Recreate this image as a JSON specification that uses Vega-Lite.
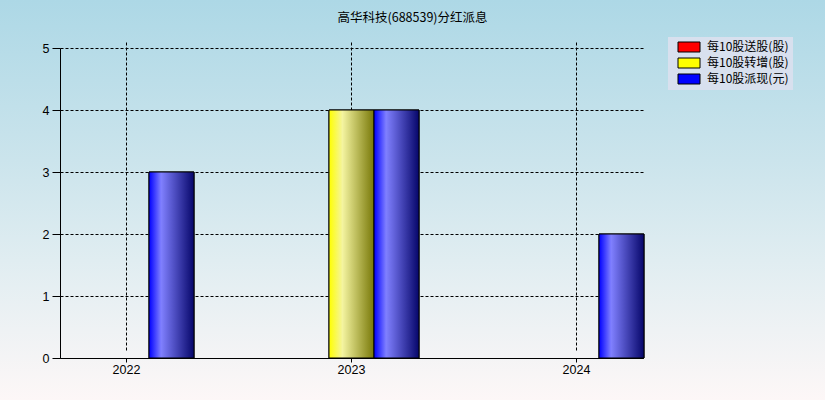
{
  "$schema": "https://vega.github.io/schema/vega-lite/v6.json",
  "width": 825,
  "height": 400,
  "autosize": {"type": "none"},
  "padding": 0,
  "background": "#fbf7f7",
  "title": {
    "text": "高华科技(688539)分红派息",
    "anchor": "middle",
    "offset": -24,
    "fontSize": 12.5,
    "fontWeight": "normal",
    "font": "Noto Sans CJK SC",
    "color": "#000000"
  },
  "data": {
    "values": [
      {"year": "2022", "type": "每10股派现(元)", "value": 3},
      {"year": "2023", "type": "每10股转增(股)", "value": 4},
      {"year": "2023", "type": "每10股派现(元)", "value": 4},
      {"year": "2024", "type": "每10股派现(元)", "value": 2}
    ]
  },
  "encoding": {
    "x": {
      "field": "year",
      "type": "nominal",
      "scale": {
        "type": "band",
        "domain": ["2022", "2023", "2024"],
        "range": [60, 643],
        "paddingInner": 1,
        "paddingOuter": 0.2956
      },
      "axis": {
        "title": null,
        "orient": "bottom",
        "offset": -42,
        "labelAngle": 0,
        "grid": true,
        "gridDash": [3, 2],
        "gridColor": "#000000",
        "gridOpacity": 1,
        "gridWidth": 1,
        "domainColor": "#000000",
        "domainWidth": 1,
        "tickColor": "#000000",
        "tickSize": 4,
        "labelFont": "Liberation Sans",
        "labelFontSize": 12.5,
        "labelColor": "#000000",
        "labelPadding": 1
      }
    },
    "xOffset": {
      "field": "type",
      "type": "nominal",
      "scale": {
        "domain": ["每10股送股(股)", "每10股转增(股)", "每10股派现(元)"],
        "range": [-67.5, 67.5]
      }
    },
    "y": {
      "field": "value",
      "type": "quantitative",
      "scale": {"domain": [0, 5], "range": [358, 48], "nice": false},
      "axis": {
        "title": null,
        "offset": -60,
        "values": [0, 1, 2, 3, 4, 5],
        "grid": true,
        "gridDash": [3, 2],
        "gridColor": "#000000",
        "gridOpacity": 1,
        "gridWidth": 1,
        "domainColor": "#000000",
        "domainWidth": 1,
        "tickColor": "#000000",
        "tickSize": 8,
        "labelFont": "Liberation Sans",
        "labelFontSize": 12.5,
        "labelColor": "#000000",
        "labelPadding": 3
      }
    }
  },
  "layer": [
    {
      "mark": {"type": "bar", "stroke": "#000000", "strokeWidth": 1},
      "encoding": {
        "fill": {
          "field": "type",
          "type": "nominal",
          "scale": {
            "domain": ["每10股送股(股)", "每10股转增(股)", "每10股派现(元)"],
            "range": ["#ff0000", "#ffff00", "#0000ff"]
          },
          "legend": {
            "title": null,
            "orient": "none",
            "legendX": 668,
            "legendY": 37,
            "direction": "vertical",
            "fillColor": "#d8e0ee",
            "padding": 4,
            "rowPadding": 2,
            "symbolType": "M-2.2,-1L2.2,-1L2.2,1L-2.2,1Z",
            "symbolSize": 100,
            "symbolOffset": 11,
            "symbolStrokeColor": "#000000",
            "symbolStrokeWidth": 1,
            "symbolOpacity": 1,
            "labelFont": "Noto Sans CJK SC",
            "labelFontSize": 12,
            "labelColor": "#000000",
            "labelOffset": 12
          }
        }
      }
    },
    {
      "mark": {"type": "bar", "stroke": "#000000", "strokeWidth": 1},
      "encoding": {
        "fill": {
          "condition": [
            {
              "test": "datum.type === '每10股转增(股)'",
              "value": {
                "gradient": "linear", "x1": 0, "y1": 0, "x2": 1, "y2": 0,
                "stops": [
                  {"offset": 0, "color": "#ffff00"},
                  {"offset": 0.3, "color": "#f4f4a0"},
                  {"offset": 1, "color": "#787808"}
                ]
              }
            },
            {
              "test": "datum.type === '每10股送股(股)'",
              "value": {
                "gradient": "linear", "x1": 0, "y1": 0, "x2": 1, "y2": 0,
                "stops": [
                  {"offset": 0, "color": "#ff0000"},
                  {"offset": 0.3, "color": "#ff8080"},
                  {"offset": 1, "color": "#700000"}
                ]
              }
            }
          ],
          "value": {
            "gradient": "linear", "x1": 0, "y1": 0, "x2": 1, "y2": 0,
            "stops": [
              {"offset": 0, "color": "#0000ff"},
              {"offset": 0.27, "color": "#8080ff"},
              {"offset": 1, "color": "#06066a"}
            ]
          }
        }
      }
    }
  ],
  "config": {
    "view": {
      "stroke": null,
      "fill": {
        "gradient": "linear", "x1": 0, "y1": 0, "x2": 0, "y2": 1,
        "stops": [
          {"offset": 0, "color": "#add8e6"},
          {"offset": 0.4, "color": "#cbe4ec"},
          {"offset": 0.65, "color": "#e0edf1"},
          {"offset": 1, "color": "#fdf7f7"}
        ]
      }
    }
  }
}
